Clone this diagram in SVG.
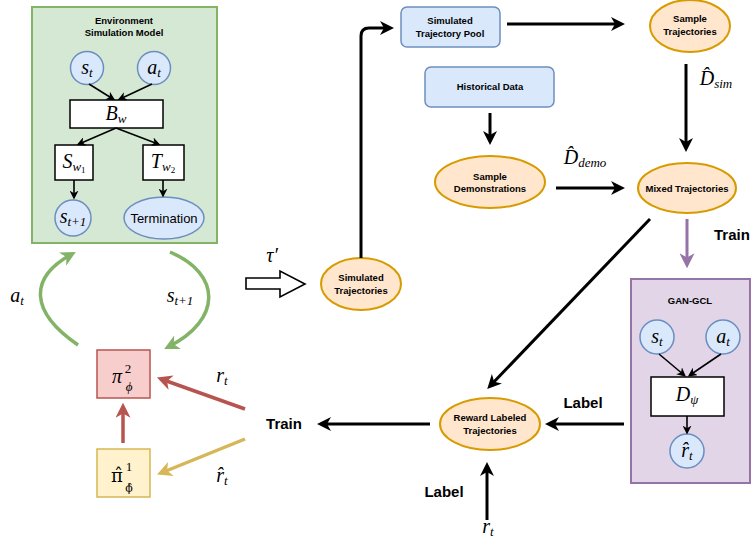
<svg xmlns="http://www.w3.org/2000/svg" width="754" height="542" viewBox="0 0 754 542">
<style>
.lbl{font-family:"Liberation Sans",Arial,sans-serif;font-weight:bold;font-size:9.5px;text-anchor:middle;fill:#000}
.big{font-family:"Liberation Sans",Arial,sans-serif;font-weight:bold;font-size:15px;text-anchor:middle;fill:#000}
.m{font-family:"Liberation Serif","Times New Roman",serif;font-style:italic;font-size:20px;text-anchor:middle;fill:#000}
.ms{font-family:"Liberation Serif","Times New Roman",serif;font-style:italic;font-size:13px;text-anchor:middle;fill:#000}
.dj{font-family:"DejaVu Serif",serif;font-style:normal;text-anchor:middle;fill:#000}
.up{font-style:normal}
.sub{font-size:13px}
.plain{font-family:"Liberation Sans",Arial,sans-serif;font-size:13px;text-anchor:middle;fill:#000}
.bc{fill:#dae8fc;stroke:#6c8ebf;stroke-width:1.5}
.oe{fill:#ffe6cc;stroke:#d79b00;stroke-width:2}
.wb{fill:#fff;stroke:#000;stroke-width:1.5}
.k3{fill:none;stroke:#000;stroke-width:3}
.k1{fill:none;stroke:#000;stroke-width:1.6}
</style>
<defs>
<marker id="ak" viewBox="0 0 14 14" refX="10" refY="7" markerWidth="14" markerHeight="14" markerUnits="userSpaceOnUse" orient="auto"><path d="M0,0 L14,7 L0,14 L4,7 z" fill="#000"/></marker>
<marker id="as" viewBox="0 0 14 14" refX="10" refY="7" markerWidth="9" markerHeight="9" markerUnits="userSpaceOnUse" orient="auto"><path d="M0,0 L14,7 L0,14 L4,7 z" fill="#000"/></marker>
<marker id="ag" viewBox="0 0 14 14" refX="10" refY="7" markerWidth="15" markerHeight="15" markerUnits="userSpaceOnUse" orient="auto"><path d="M0,0 L14,7 L0,14 L4,7 z" fill="#82b366"/></marker>
<marker id="ar" viewBox="0 0 14 14" refX="10" refY="7" markerWidth="15" markerHeight="15" markerUnits="userSpaceOnUse" orient="auto"><path d="M0,0 L14,7 L0,14 L4,7 z" fill="#b85450"/></marker>
<marker id="ay" viewBox="0 0 14 14" refX="10" refY="7" markerWidth="15" markerHeight="15" markerUnits="userSpaceOnUse" orient="auto"><path d="M0,0 L14,7 L0,14 L4,7 z" fill="#d6b656"/></marker>
<marker id="ap" viewBox="0 0 14 14" refX="10" refY="7" markerWidth="15" markerHeight="15" markerUnits="userSpaceOnUse" orient="auto"><path d="M0,0 L14,7 L0,14 L4,7 z" fill="#9673a6"/></marker>
</defs>

<g id="env-model">
<rect x="32" y="7" width="185" height="236" fill="#d5e8d4" stroke="#82b366" stroke-width="2"/>
<text class="lbl" x="124" y="24">Environment</text>
<text class="lbl" x="124" y="36">Simulation Model</text>
</g>
<g id="env-st"><circle class="bc" cx="87" cy="68" r="16.5"/><text class="m" x="87" y="74">s<tspan class="sub" dy="3">t</tspan></text></g>
<g id="env-at"><circle class="bc" cx="154" cy="68" r="16.5"/><text class="m" x="154" y="74">a<tspan class="sub" dy="3">t</tspan></text></g>
<g id="env-bw"><rect class="wb" x="70" y="100" width="93" height="28"/><text class="m" x="116" y="120">B<tspan class="sub" dy="3">w</tspan></text></g>
<g id="env-sw1"><rect class="wb" x="55" y="145" width="38" height="35"/><text class="m" x="74" y="168">S<tspan class="sub" dy="3">w</tspan><tspan class="up" font-size="9" dy="2">1</tspan></text></g>
<g id="env-tw2"><rect class="wb" x="143" y="145" width="41" height="35"/><text class="m" x="163" y="168">T<tspan class="sub" dy="3">w</tspan><tspan class="up" font-size="9" dy="2">2</tspan></text></g>
<g id="env-st1"><circle class="bc" cx="73" cy="218" r="18"/><text class="m" x="73" y="223">s<tspan class="sub" dy="3">t+1</tspan></text></g>
<g id="env-term"><ellipse class="bc" cx="164" cy="218" rx="40" ry="21"/><text class="plain" x="164" y="223">Termination</text></g>

<g id="pi2"><rect x="97" y="350" width="53" height="48" fill="#f8cecc" stroke="#b85450" stroke-width="1.5"/>
<text class="m" x="117" y="383">π</text><text class="ms up" x="128" y="373">2</text><text class="ms" x="129" y="391">ϕ</text></g>
<g id="pi1"><rect x="97" y="449" width="53" height="48" fill="#fff2cc" stroke="#d6b656" stroke-width="1.5"/>
<text class="dj" font-size="18" x="117" y="482">π̂</text><text class="ms up" x="129" y="471">1</text><text class="dj" font-size="11" x="129" y="492">ϕ̂</text></g>

<g id="sim-traj"><ellipse class="oe" cx="361" cy="284" rx="40" ry="26"/><text class="lbl" x="361" y="281">Simulated</text><text class="lbl" x="361" y="294">Trajectories</text></g>
<g id="pool"><rect class="bc" x="401" y="7" width="99" height="40" rx="6"/><text class="lbl" x="450" y="24">Simulated</text><text class="lbl" x="450" y="37">Trajectory Pool</text></g>
<g id="sample-traj"><ellipse class="oe" cx="690" cy="26" rx="40" ry="26"/><text class="lbl" x="690" y="22">Sample</text><text class="lbl" x="690" y="35">Trajectories</text></g>
<g id="hist"><rect class="bc" x="425" y="67" width="129" height="40" rx="6"/><text class="lbl" x="490" y="90">Historical Data</text></g>
<g id="sample-demo"><ellipse class="oe" cx="490" cy="182" rx="55" ry="26"/><text class="lbl" x="490" y="180">Sample</text><text class="lbl" x="490" y="192">Demonstrations</text></g>
<g id="mixed"><ellipse class="oe" cx="687" cy="188" rx="49" ry="25"/><text class="lbl" x="687" y="192">Mixed Trajectories</text></g>
<g id="reward"><ellipse class="oe" cx="490" cy="424" rx="50" ry="26"/><text class="lbl" x="490" y="421">Reward Labeled</text><text class="lbl" x="490" y="434">Trajectories</text></g>

<g id="gan-gcl">
<rect x="631" y="279" width="119" height="204" fill="#e1d5e7" stroke="#9673a6" stroke-width="2"/>
<text class="lbl" x="690" y="304">GAN-GCL</text>
</g>
<g id="gan-st"><circle class="bc" cx="657" cy="337" r="17"/><text class="m" x="657" y="343">s<tspan class="sub" dy="3">t</tspan></text></g>
<g id="gan-at"><circle class="bc" cx="723" cy="337" r="17"/><text class="m" x="723" y="343">a<tspan class="sub" dy="3">t</tspan></text></g>
<g id="gan-d"><rect class="wb" x="651" y="377" width="73" height="39"/><text class="m" x="687" y="401">D<tspan class="sub" dy="3">ψ</tspan></text></g>
<g id="gan-r"><circle class="bc" cx="687" cy="451" r="17"/><text class="m" x="687" y="457">r̂<tspan class="sub" dy="3">t</tspan></text></g>

<g id="connectors">
<line class="k1" x1="89" y1="84" x2="113" y2="99" marker-end="url(#as)"/>
<line class="k1" x1="152" y1="84" x2="120" y2="99" marker-end="url(#as)"/>
<line class="k1" x1="116" y1="128" x2="79" y2="144" marker-end="url(#as)"/>
<line class="k1" x1="116" y1="128" x2="158" y2="144" marker-end="url(#as)"/>
<line class="k1" x1="74" y1="180" x2="74" y2="197" marker-end="url(#as)"/>
<line class="k1" x1="163" y1="180" x2="163" y2="195" marker-end="url(#as)"/>

<path d="M78,345 C30,312 28,278 72,254" fill="none" stroke="#82b366" stroke-width="3.5" marker-end="url(#ag)"/>
<path d="M170,252 C222,274 222,320 168,347" fill="none" stroke="#82b366" stroke-width="3.5" marker-end="url(#ag)"/>

<line x1="123" y1="443" x2="123" y2="407" stroke="#b85450" stroke-width="3.5" marker-end="url(#ar)"/>
<line x1="245" y1="409" x2="161" y2="379" stroke="#b85450" stroke-width="3.5" marker-end="url(#ar)"/>
<line x1="245" y1="439" x2="161" y2="473" stroke="#d6b656" stroke-width="3.5" marker-end="url(#ay)"/>

<path d="M246,278 H280 V271 L305,284 L280,297 V289 H246 Z" fill="#fff" stroke="#000" stroke-width="1.6"/>

<path class="k3" d="M361,258 V36 Q361,28 369,28 H390" marker-end="url(#ak)"/>
<line class="k3" x1="507" y1="24" x2="621" y2="24" marker-end="url(#ak)"/>
<line class="k3" x1="686" y1="64" x2="686" y2="148" marker-end="url(#ak)"/>
<line class="k3" x1="490" y1="113" x2="490" y2="141" marker-end="url(#ak)"/>
<line class="k3" x1="556" y1="188" x2="621" y2="188" marker-end="url(#ak)"/>
<line x1="687" y1="219" x2="687" y2="264" stroke="#9673a6" stroke-width="3" marker-end="url(#ap)"/>
<line class="k3" x1="650" y1="219" x2="490" y2="386" marker-end="url(#ak)"/>
<line class="k3" x1="624" y1="424" x2="549" y2="424" marker-end="url(#ak)"/>
<line class="k3" x1="430" y1="424" x2="321" y2="424" marker-end="url(#ak)"/>
<line class="k3" x1="487" y1="520" x2="487" y2="466" marker-end="url(#ak)"/>

<line class="k1" x1="659" y1="354" x2="684" y2="375" marker-end="url(#as)"/>
<line class="k1" x1="721" y1="354" x2="690" y2="375" marker-end="url(#as)"/>
<line class="k1" x1="687" y1="416" x2="687" y2="432" marker-end="url(#as)"/>
</g>

<g id="labels">
<text class="m" x="17" y="302">a<tspan class="sub" dy="3">t</tspan></text>
<text class="m" x="180" y="302">s<tspan class="sub" dy="3">t+1</tspan></text>
<text class="m" x="222" y="382">r<tspan class="sub" dy="3">t</tspan></text>
<text class="m" x="222" y="482">r̂<tspan class="sub" dy="3">t</tspan></text>
<text class="m" x="272" y="262">τ′</text>
<text class="big" x="284" y="429">Train</text>
<text class="big" x="583" y="408">Label</text>
<text class="big" x="444" y="497">Label</text>
<text class="m" x="488" y="533">r<tspan class="sub" dy="3">t</tspan></text>
<text class="m" x="716" y="85">D̂<tspan class="sub" dy="3">sim</tspan></text>
<text class="m" x="585" y="164">D̂<tspan class="sub" dy="3">demo</tspan></text>
<text class="big" x="714" y="240" style="text-anchor:start">Train</text>
</g>
</svg>
